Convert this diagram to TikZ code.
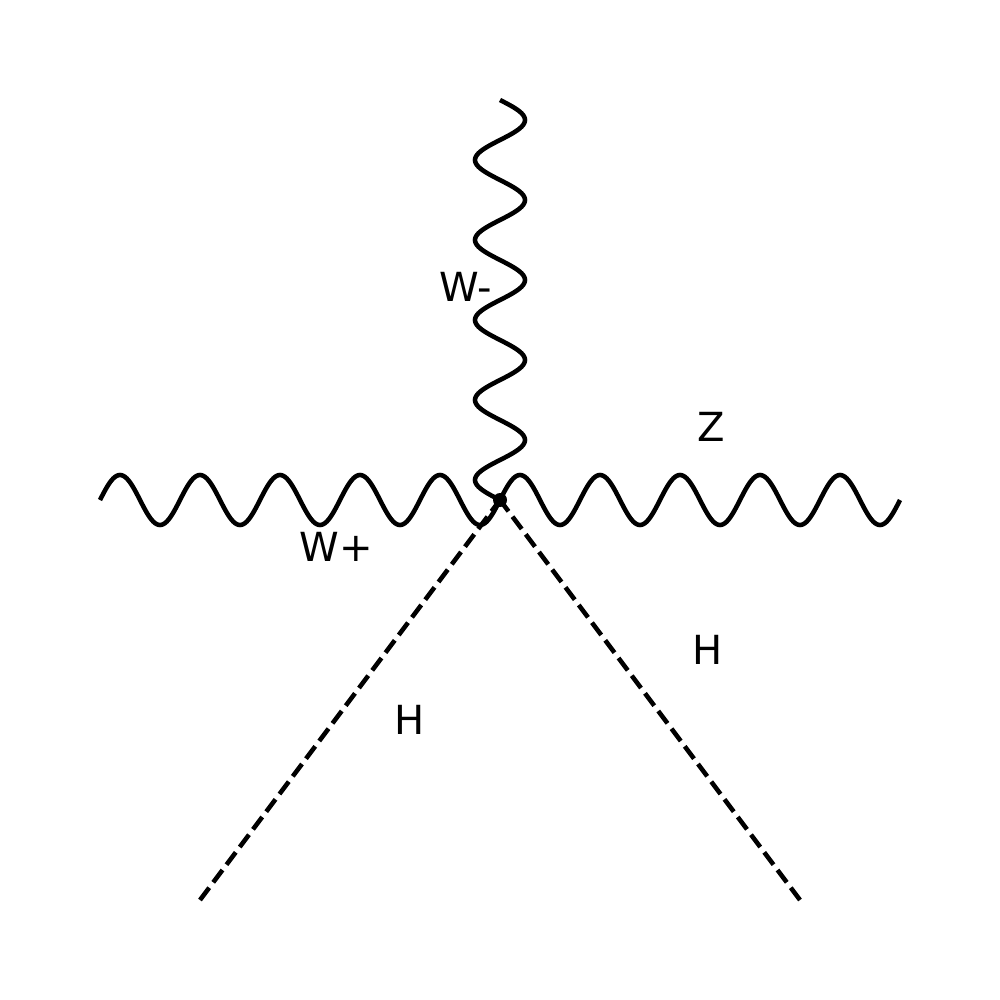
\documentclass[tikz,border=0pt]{standalone}
\usepackage{fontspec}
\setmainfont{DejaVu Sans}
\begin{document}
\begin{tikzpicture}[x=0.01cm,y=-0.01cm,
  boson/.style={line width=1.3pt, line join=round},
  scalar/.style={line width=1.3pt, dash pattern=on 4.38pt off 1.9pt},
  lbl/.style={inner sep=0pt, font=\fontsize{11.4pt}{13pt}\selectfont}]
\useasboundingbox (0,0) rectangle (1000,1000);
\coordinate (v) at (500,500);
\coordinate (wp) at (100,500);
\coordinate (z) at (900,500);
\coordinate (wm) at (500,100);
\coordinate (h1) at (200,900);
\coordinate (h2) at (800,900);
% W+ : from (wp) to (v)
\draw[boson] plot[domain=100:500, samples=241, smooth] (\x, {500-25*sin(4.5*(\x-100))});
% Z : from (v) to (z)
\draw[boson] plot[domain=500:900, samples=241, smooth] (\x, {500-25*sin(4.5*(\x-500))});
% W- : from (wm) to (v)
\draw[boson] plot[domain=100:500, samples=241, smooth] ({500+25*sin(4.5*(\x-100))}, \x);
\draw[scalar] (h1) -- (v);
\draw[scalar] (h2) -- (v);
\fill (v) circle[radius=7];
\node[lbl] (lwm) at (466,287) {W-};
\node[lbl] (lwp) at (336,547) {W+};
\node[lbl] (lz) at (711,427) {Z};
\node[lbl] (lh2) at (708,650) {H};
\node[lbl] (lh1) at (410,720) {H};
\end{tikzpicture}
\end{document}
